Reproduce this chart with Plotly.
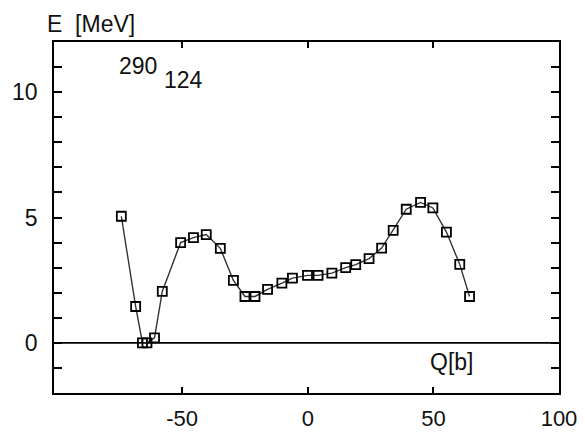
import plotly.graph_objects as go

# Q [b] and E [MeV]
q_values = [-74.2, -68.5, -65.8, -64.0, -61.0, -57.9, -50.6, -45.5, -40.4, -34.8,
            -29.6, -25.0, -21.0, -16.0, -10.3, -6.1, -0.1, 4.1, 9.6, 15.1,
            19.1, 24.4, 29.4, 34.0, 39.2, 44.9, 49.8, 55.2, 60.5, 64.4]
e_values = [5.05, 1.45, 0.0, 0.0, 0.2, 2.05, 4.0, 4.2, 4.32, 3.77,
            2.49, 1.85, 1.85, 2.13, 2.38, 2.58, 2.69, 2.69, 2.78, 3.0,
            3.12, 3.36, 3.78, 4.49, 5.33, 5.6, 5.38, 4.42, 3.13, 1.85]

x_ticks = [-50, 0, 50, 100]
y_ticks = [0, 5, 10]

FONT = "Liberation Sans, Arial, Helvetica, sans-serif"
FS = 23

fig = go.Figure()
fig.add_trace(go.Scatter(
    x=q_values, y=e_values, mode="lines+markers",
    line=dict(color="#333333", width=1.4),
    marker=dict(symbol="square-open", size=9, color="black", line=dict(width=1.8, color="black")),
    showlegend=False,
))

fig.add_hline(y=0, line=dict(color="black", width=1.6), layer="below")

fig.update_xaxes(
    range=[-101, 100], tickvals=x_ticks, ticktext=[str(v) for v in x_ticks],
    ticks="inside", ticklen=6, tickwidth=1.5, tickcolor="black",
    showline=True, linecolor="black", linewidth=1.8, mirror="ticks",
    showgrid=False, zeroline=False, automargin=False,
    tickfont=dict(family=FONT, size=22, color="#111"), ticklabelstandoff=5,
)
fig.update_yaxes(
    range=[-2, 12], tickvals=y_ticks, ticktext=[str(v) for v in y_ticks],
    ticks="inside", ticklen=8, tickwidth=1.5, tickcolor="black",
    minor=dict(dtick=1, tick0=0, ticks="inside", ticklen=8, tickwidth=1.5, tickcolor="black"),
    showline=True, linecolor="black", linewidth=1.8, mirror="ticks",
    showgrid=False, zeroline=False, automargin=False,
    tickfont=dict(family=FONT, size=FS, color="#111"), ticklabelstandoff=10,
)

ann_font = dict(family=FONT, size=FS, color="#111")
fig.add_annotation(text="E  [MeV]", xref="paper", yref="paper", x=-0.018, y=1.051,
                   xanchor="left", yanchor="middle", showarrow=False, font=ann_font)
fig.add_annotation(text="290", xref="x", yref="y", x=-75.9, y=11.05,
                   xanchor="left", yanchor="middle", showarrow=False, font=ann_font)
fig.add_annotation(text="124", xref="x", yref="y", x=-58.0, y=10.49,
                   xanchor="left", yanchor="middle", showarrow=False, font=ann_font)
fig.add_annotation(text="Q[b]", xref="x", yref="y", x=47.9, y=-0.76,
                   xanchor="left", yanchor="middle", showarrow=False, font=ann_font)

fig.update_layout(
    width=585, height=433,
    margin=dict(l=54, r=26, t=42, b=40),
    paper_bgcolor="white", plot_bgcolor="white",
)

fig.write_html("out.html")
